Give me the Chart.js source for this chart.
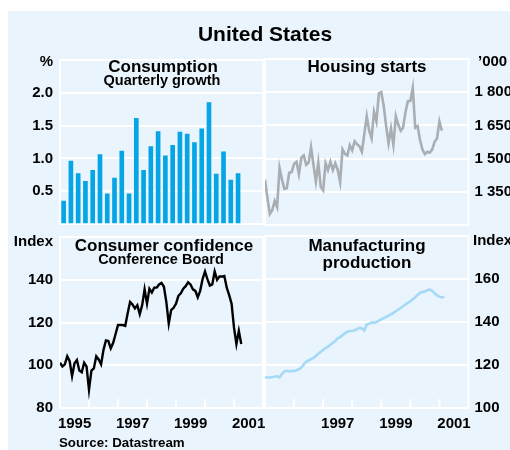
<!DOCTYPE html>
<html>
<head>
<meta charset="utf-8">
<script src="https://cdn.jsdelivr.net/npm/chart.js@4/dist/chart.umd.min.js"></script>
<style>
body { margin:0; width:510px; height:450px; overflow:hidden; position:relative; background:#fff;
  font-family:"Liberation Sans", Arial, sans-serif; font-weight:bold; color:#000; }
#bg { position:absolute; left:8px; top:11px; width:502px; height:439px; background:#eaf4fd; }
canvas { position:absolute; }
.t { position:absolute; white-space:nowrap; line-height:1; }
.c { transform:translate(-50%,-50%); }
.l { transform:translate(0,-50%); }
.r { transform:translate(-100%,-50%); }
</style>
</head>
<body>
<div id="bg"></div>
<canvas id="consumption" width="270" height="196" style="left:0;top:44px"></canvas>
<canvas id="housing" width="252" height="196" style="left:258px;top:44px"></canvas>
<canvas id="confidence" width="270" height="229" style="left:0;top:221px"></canvas>
<canvas id="manufacturing" width="252" height="229" style="left:258px;top:221px"></canvas>

<div class="t c" style="left:265px;top:33px;font-size:21px">United States</div>
<div class="t c" style="left:163px;top:66px;font-size:17px">Consumption</div>
<div class="t c" style="left:162px;top:80px;font-size:14.5px">Quarterly growth</div>
<div class="t c" style="left:367px;top:66px;font-size:17px">Housing starts</div>
<div class="t c" style="left:164px;top:244.5px;font-size:17px">Consumer confidence</div>
<div class="t c" style="left:161px;top:258.5px;font-size:14.5px">Conference Board</div>
<div class="t c" style="left:367px;top:245px;font-size:17px">Manufacturing</div>
<div class="t c" style="left:367px;top:262px;font-size:17px">production</div>
<div class="t r" style="left:53px;top:60px;font-size:15px">%</div>
<div class="t l" style="left:478px;top:60px;font-size:15px">’000</div>
<div class="t r" style="left:53px;top:240px;font-size:15px">Index</div>
<div class="t l" style="left:473px;top:239px;font-size:15px">Index</div>
<div class="t l" style="left:59px;top:442.5px;font-size:13.3px">Source: Datastream</div>

<script>
// quarterly, 1995 Q1 to 2001 Q1
const consumptionGrowth = [0.35, 0.96, 0.77, 0.65, 0.82, 1.06, 0.46, 0.70, 1.11, 0.46,
  1.61, 0.82, 1.18, 1.41, 1.04, 1.20, 1.40, 1.37, 1.24, 1.45,
  1.85, 0.76, 1.10, 0.67, 0.77];

// monthly from Jan 1995
const housingStarts = [1404, 1323, 1250, 1267, 1309, 1281, 1458, 1405, 1363, 1366,
  1436, 1439, 1476, 1486, 1429, 1504, 1514, 1472, 1482, 1552,
  1472, 1397, 1482, 1373, 1357, 1479, 1448, 1486, 1448, 1479,
  1450, 1394, 1542, 1521, 1514, 1561, 1538, 1578, 1565, 1556,
  1531, 1612, 1692, 1626, 1591, 1711, 1668, 1795, 1800, 1739,
  1647, 1569, 1636, 1562, 1692, 1654, 1626, 1640, 1711, 1760,
  1760, 1820, 1640, 1647, 1583, 1541, 1520, 1531, 1527, 1541,
  1576, 1591, 1668, 1626];

const consumerConfidence = [101.2, 99.4, 100.4, 104.2, 101.9, 94.9, 100.9, 102.4, 97.5, 96.7,
  101.2, 99.4, 88.5, 97.5, 98.5, 104.2, 102.7, 100.4, 107.2, 111.6,
  111.3, 107.9, 110.5, 114.6, 118.8, 118.8, 118.8, 118.4, 124.3, 129.6,
  128.4, 126.6, 128.1, 123.9, 128.1, 135.5, 128.8, 135.8, 134.0, 136.3,
  136.3, 137.8, 138.5, 136.7, 129.6, 119.5, 125.8, 126.9, 128.8, 132.5,
  133.7, 135.8, 137.0, 138.8, 137.8, 135.5, 134.8, 131.8, 134.8, 140.3,
  143.9, 140.3, 137.3, 137.8, 143.9, 140.0, 141.5, 141.5, 141.8, 136.3,
  132.8, 128.8, 117.6, 109.9, 116.1, 109.9];

const manufacturingProduction = [114.2, 114.2, 114.2, 114.4, 114.5, 114.8, 114.2, 115.8, 117.0, 117.3,
  117.0, 117.3, 117.1, 117.6, 118.0, 118.8, 120.3, 121.5, 122.1, 122.7,
  123.3, 124.2, 125.2, 126.1, 127.1, 127.9, 128.5, 129.4, 130.3, 131.2,
  132.4, 133.0, 133.9, 134.7, 135.5, 135.8, 135.8, 136.2, 136.7, 137.3,
  137.0, 136.1, 138.8, 139.2, 139.7, 139.7, 140.0, 140.6, 141.2, 141.8,
  142.4, 143.0, 143.6, 144.2, 145.0, 145.8, 146.5, 147.3, 148.2, 148.9,
  149.7, 150.6, 151.5, 152.6, 153.5, 153.9, 154.2, 154.8, 155.1, 154.5,
  153.3, 152.4, 151.8, 151.4, 151.8];

const startYear = 1995;
const endYear = 2002;

Chart.defaults.font.family = '"Liberation Sans", Arial, sans-serif';
Chart.defaults.font.weight = 'bold';
Chart.defaults.font.size = 15;
Chart.defaults.color = '#000';

function monthly(vals) {
  return vals.map((v, i) => ({ x: startYear + i / 12, y: v }));
}
function quarterly(vals) {
  return vals.map((v, i) => ({ x: startYear + (i + 0.5) / 4, y: v }));
}

// white frame round the plot area and small year ticks on the bottom edge
const framePlugin = {
  id: 'frame',
  beforeDatasetsDraw(chart, args, opts) {
    const a = chart.chartArea, ctx = chart.ctx;
    ctx.save();
    ctx.strokeStyle = '#fff';
    ctx.lineWidth = 2;
    ctx.strokeRect(a.left, a.top, a.right - a.left, a.bottom - a.top);
    if (opts.ticks) {
      const xs = chart.scales.x;
      for (let yr = startYear + 1; yr < endYear; yr++) {
        const px = xs.getPixelForValue(yr);
        ctx.beginPath();
        ctx.moveTo(px, a.bottom);
        ctx.lineTo(px, a.bottom - 9);
        ctx.stroke();
      }
    }
    ctx.restore();
  }
};

function fmtThousands(v) {
  return String(v).replace(/(\d)(\d{3})$/, '$1 $2');
}

function makeChart(id, type, dataset, side, bottom, y) {
  const left = side === 'left';
  const xScale = {
    type: 'linear', min: startYear, max: endYear, offset: false,
    display: bottom,
    grid: { display: false, offset: false, drawTicks: false },
    border: { display: false },
    ticks: {
      stepSize: 1, autoSkip: false, maxRotation: 0, padding: 7, labelOffset: 14.6,
      callback: v => (v % 2 === 1 && (left || v > startYear)) ? String(v) : ''
    }
  };
  if (bottom) xScale.afterFit = s => { s.height = 30; };
  const yScale = {
    position: side, min: y.min, max: y.max,
    grid: { color: '#fff', lineWidth: 2, drawTicks: false },
    border: { display: false },
    ticks: {
      stepSize: y.step, padding: left ? 7 : 6, autoSkip: false,
      callback: y.label
    },
    afterFit: s => { s.width = left ? 60 : 41.5; }
  };
  return new Chart(document.getElementById(id), {
    type: type,
    data: { datasets: [dataset] },
    options: {
      responsive: false,
      animation: false,
      layout: {
        padding: {
          left: left ? 0 : 7, right: left ? 6.5 : 0,
          top: bottom ? 10.5 : 10, bottom: bottom ? 12 : 9
        }
      },
      plugins: { legend: { display: false }, tooltip: { enabled: false }, frame: { ticks: bottom } },
      scales: { x: xScale, y: yScale }
    },
    plugins: [framePlugin]
  });
}

makeChart('consumption', 'bar', {
  data: quarterly(consumptionGrowth),
  backgroundColor: '#05a5e6', barThickness: 4, borderWidth: 0
}, 'left', false, {
  min: 0, max: 2.5, step: 0.5,
  label: v => (v === 0 || v === 2.5) ? '' : v.toFixed(1)
});

makeChart('housing', 'line', {
  data: monthly(housingStarts),
  borderColor: '#a9aeb3', borderWidth: 2.6, pointRadius: 0, tension: 0
}, 'right', false, {
  min: 1200, max: 1950, step: 150,
  label: v => (v === 1200 || v === 1950) ? '' : fmtThousands(v)
});

makeChart('confidence', 'line', {
  data: monthly(consumerConfidence),
  borderColor: '#000', borderWidth: 2.4, pointRadius: 0, tension: 0
}, 'left', true, {
  min: 80, max: 160, step: 20,
  label: v => v === 160 ? '' : String(v)
});

makeChart('manufacturing', 'line', {
  data: monthly(manufacturingProduction),
  borderColor: '#a4daf7', borderWidth: 2.6, pointRadius: 0, tension: 0
}, 'right', true, {
  min: 100, max: 180, step: 20,
  label: v => v === 180 ? '' : String(v)
});
</script>
</body>
</html>
